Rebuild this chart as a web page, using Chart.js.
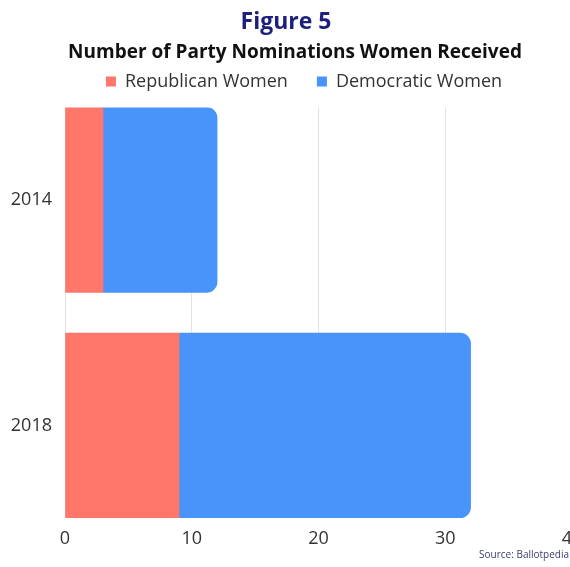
<!DOCTYPE html>
<html>
<head>
<meta charset="utf-8">
<script src="https://cdn.jsdelivr.net/npm/chart.js@4/dist/chart.umd.min.js"></script>
<style>
  html, body { margin: 0; padding: 0; overflow: hidden; background: #ffffff; }
  #wrap { position: absolute; left: 0; top: 0; width: 600px; height: 567px; }
</style>
</head>
<body>
<div id="wrap"><canvas id="c" width="600" height="567"></canvas></div>
<script>
// ---- data ----
const years = ['2014', '2018'];
const republicanWomen = [3, 9];
const democraticWomen = [9, 23];
const xTickValues = [0, 10, 20, 30, 40];
const seriesNames = ['Republican Women', 'Democratic Women'];
const titleText = 'Figure 5';
const subtitleText = 'Number of Party Nominations Women Received';
const sourceText = 'Source: Ballotpedia';

const FONT = "'Open Sans', 'Liberation Sans', sans-serif";

const shiftPlugin = {
  id: 'shiftHeader',
  afterLayout(chart) {
    chart.boxes.forEach(b => {
      if (b.options && b.options.text === titleText) { b.top += 9; b.bottom += 9; }
      if (b.options && b.options.text === subtitleText) { b.left += 9; b.right += 9; b.top += 13.5; b.bottom += 13.5; }
    });
    if (chart.legend) {
      chart.legend.left += 18; chart.legend.right += 18;
      chart.legend.top -= 7; chart.legend.bottom -= 7;
    }
  },
  afterDraw(chart) {
    const ctx = chart.ctx;
    ctx.save();
    ctx.font = "10px " + FONT;
    ctx.fillStyle = '#3b3d6e';
    ctx.textAlign = 'right';
    ctx.textBaseline = 'middle';
    ctx.fillText(sourceText, 569, 555);
    ctx.restore();
  }
};

new Chart(document.getElementById('c'), {
  type: 'bar',
  data: {
    datasets: [
      {
        label: seriesNames[0],
        data: years.map((y, i) => ({ y: i, x: republicanWomen[i] })),
        backgroundColor: '#ff766a',
        borderWidth: 0,
        borderRadius: 0,
        barThickness: 185
      },
      {
        label: seriesNames[1],
        data: years.map((y, i) => ({ y: i, x: democraticWomen[i] })),
        backgroundColor: '#4894fb',
        borderWidth: 0,
        borderSkipped: false,
        borderRadius: { topLeft: 0, bottomLeft: 0, topRight: 11, bottomRight: 11 },
        barThickness: 185
      }
    ]
  },
  options: {
    indexAxis: 'y',
    responsive: false,
    animation: false,
    layout: { padding: { left: 0, right: 28, top: 0, bottom: 0 } },
    scales: {
      x: {
        type: 'linear',
        stacked: true,
        min: 0,
        max: 40,
        afterBuildTicks(scale) { scale.ticks = xTickValues.map(v => ({ value: v })); },
        afterFit(scale) { scale.height = 49; },
        grid: { display: true, color: '#e2e2e2', lineWidth: 1, drawTicks: false },
        border: { display: false },
        ticks: { color: '#333333', font: { family: FONT, size: 18 }, padding: 10, maxRotation: 0 }
      },
      y: {
        type: 'linear',
        stacked: true,
        reverse: true,
        offset: false,
        min: -0.41,
        max: 1.41,
        afterBuildTicks(scale) { scale.ticks = years.map((y, i) => ({ value: i })); },
        afterFit(scale) { scale.width = 65; },
        grid: { display: false, drawTicks: false, offset: false },
        border: { display: false },
        ticks: {
          color: '#333333',
          font: { family: FONT, size: 18 },
          padding: 13,
          callback: (v) => years[v]
        }
      }
    },
    plugins: {
      title: {
        display: true,
        text: titleText,
        color: '#1c1f7c',
        font: { family: FONT, size: 23, weight: 'bold' },
        padding: { top: 0, bottom: 0 }
      },
      subtitle: {
        display: true,
        text: subtitleText,
        color: '#111111',
        font: { family: FONT, size: 19, weight: 'bold' },
        padding: { top: 0, bottom: 0 }
      },
      legend: {
        display: true,
        position: 'top',
        labels: {
          color: '#333333',
          font: { family: FONT, size: 18 },
          boxWidth: 10,
          boxHeight: 10,
          padding: 29
        }
      },
      tooltip: { enabled: false }
    }
  },
  plugins: [shiftPlugin]
});
</script>
</body>
</html>
